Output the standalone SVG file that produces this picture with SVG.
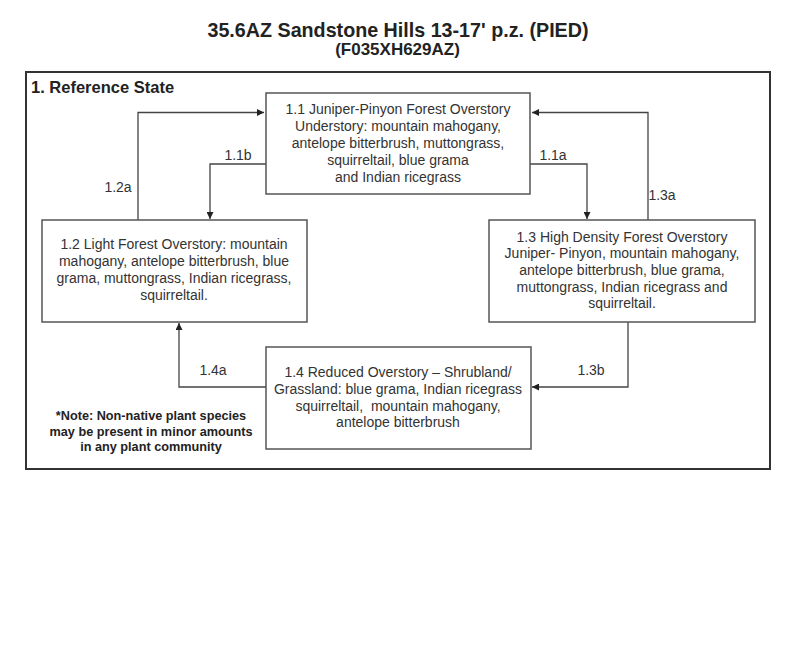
<svg xmlns="http://www.w3.org/2000/svg" width="800" height="647" viewBox="0 0 800 647">
<style>
.t{font-family:"Liberation Sans",Arial,sans-serif;fill:#222;}
.title{font-size:19.7px;font-weight:bold;text-anchor:middle;}
.sub{font-size:17px;font-weight:bold;text-anchor:middle;}
.state{font-size:16.5px;font-weight:bold;}
.box{fill:#fff;stroke:#555;stroke-width:1.5;}
.bt{font-size:14px;text-anchor:middle;fill:#333;}
.lbl{font-size:14px;text-anchor:middle;fill:#333;}
.note{font-size:12.7px;font-weight:bold;text-anchor:middle;}
.con{fill:none;stroke:#444;stroke-width:1.3;}
</style>
<defs>
<marker id="ah" viewBox="0 0 10 10" refX="10" refY="5" markerWidth="7" markerHeight="7" markerUnits="userSpaceOnUse" orient="auto">
<path d="M0,0 L10,5 L0,10 z" fill="#222"/>
</marker>
</defs>
<rect width="800" height="647" fill="#fff"/>
<text class="t title" x="398" y="36.5">35.6AZ Sandstone Hills 13-17' p.z. (PIED)</text>
<text class="t sub" x="397.5" y="55">(F035XH629AZ)</text>
<g id="frame">
<rect x="26" y="72" width="744" height="397" fill="none" stroke="#333" stroke-width="2"/>
<text class="t state" x="31" y="92.5">1. Reference State</text>
</g>
<g id="connectors">
<path class="con" d="M138,220 V112.5 H264" marker-end="url(#ah)"/>
<path class="con" d="M266,164 H210 V219" marker-end="url(#ah)"/>
<path class="con" d="M530,164 H587 V219" marker-end="url(#ah)"/>
<path class="con" d="M648,220 V112.5 H532" marker-end="url(#ah)"/>
<path class="con" d="M628,322 V387 H532" marker-end="url(#ah)"/>
<path class="con" d="M266,387 H179 V323" marker-end="url(#ah)"/>
<text class="t lbl" x="118" y="192">1.2a</text>
<text class="t lbl" x="238" y="160">1.1b</text>
<text class="t lbl" x="553" y="160">1.1a</text>
<text class="t lbl" x="662" y="200">1.3a</text>
<text class="t lbl" x="591" y="374.5">1.3b</text>
<text class="t lbl" x="213" y="374.5">1.4a</text>
</g>
<g id="n11">
<rect class="box" x="266" y="93" width="264" height="101"/>
<text class="t bt"><tspan x="398" y="114">1.1 Juniper-Pinyon Forest Overstory</tspan><tspan x="398" y="131">Understory: mountain mahogany,</tspan><tspan x="398" y="148">antelope bitterbrush, muttongrass,</tspan><tspan x="398" y="165">squirreltail, blue grama</tspan><tspan x="398" y="182">and Indian ricegrass</tspan></text>
</g>
<g id="n12">
<rect class="box" x="42" y="220" width="265" height="102"/>
<text class="t bt"><tspan x="174" y="249">1.2 Light Forest Overstory: mountain</tspan><tspan x="174" y="266">mahogany, antelope bitterbrush, blue</tspan><tspan x="174" y="283">grama, muttongrass, Indian ricegrass,</tspan><tspan x="174" y="300">squirreltail.</tspan></text>
</g>
<g id="n13">
<rect class="box" x="489" y="220" width="266" height="102"/>
<text class="t bt"><tspan x="622" y="241.5">1.3 High Density Forest Overstory</tspan><tspan x="622" y="258">Juniper- Pinyon, mountain mahogany,</tspan><tspan x="622" y="275">antelope bitterbrush, blue grama,</tspan><tspan x="622" y="291.5">muttongrass, Indian ricegrass and</tspan><tspan x="622" y="308">squirreltail.</tspan></text>
</g>
<g id="n14">
<rect class="box" x="266" y="347" width="265" height="102"/>
<text class="t bt"><tspan x="398" y="377">1.4 Reduced Overstory – Shrubland/</tspan><tspan x="398" y="394">Grassland: blue grama, Indian ricegrass</tspan><tspan x="398" y="410.5">squirreltail,&#160; mountain mahogany,</tspan><tspan x="398" y="426.5">antelope bitterbrush</tspan></text>
</g>
<g id="note">
<text class="t note"><tspan x="151" y="419.5">*Note: Non-native plant species</tspan><tspan x="151" y="436">may be present in minor amounts</tspan><tspan x="151" y="450.5">in any plant community</tspan></text>
</g>
</svg>
